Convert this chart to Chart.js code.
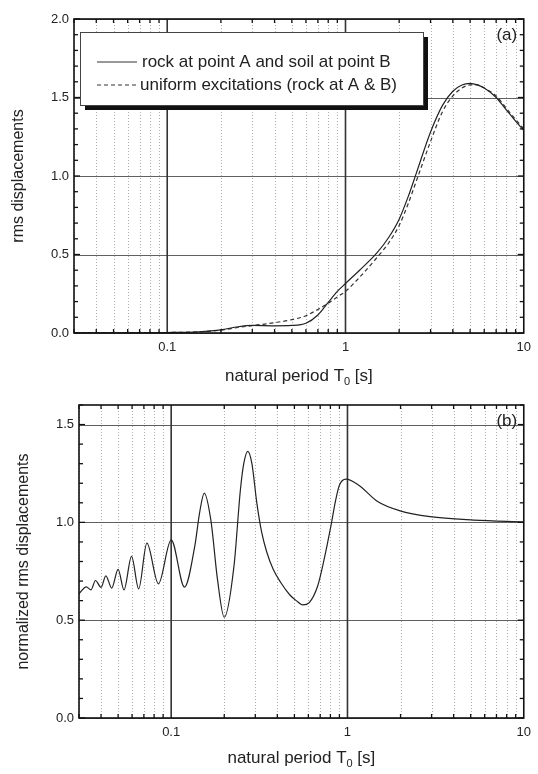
<!DOCTYPE html>
<html>
<head>
<meta charset="utf-8">
<script src="https://cdn.jsdelivr.net/npm/chart.js@4.4.1/dist/chart.umd.min.js"></script>
<style>
  html, body { margin: 0; padding: 0; background: #fff; }
  #wrap { position: relative; width: 538px; height: 774px; }
  canvas { position: absolute; left: 0; }
</style>
</head>
<body>
<div id="wrap">
  <canvas id="chartA" style="top:0;width:538px;height:390px"></canvas>
  <canvas id="chartB" style="top:390px;width:538px;height:384px"></canvas>
</div>
<script>
// panel (a): rms displacements vs natural period
const periodA = [0.03, 0.05, 0.1, 0.15, 0.2, 0.25, 0.3, 0.4, 0.5, 0.6, 0.7, 0.8, 0.9, 1.0,
  1.2, 1.5, 1.75, 2.0, 2.25, 2.5, 3.0, 3.5, 4.0, 4.5, 5.0, 5.5, 6.0, 7.0, 8.0, 9.0, 10];
const rockSoil = [0.0, 0.001, 0.003, 0.008, 0.02, 0.04, 0.048, 0.046, 0.048, 0.062, 0.115, 0.195, 0.265, 0.315,
  0.40, 0.51, 0.61, 0.725, 0.87, 1.02, 1.28, 1.45, 1.54, 1.58, 1.59, 1.58, 1.56, 1.50, 1.42, 1.35, 1.29];
const uniformRock = [0.0, 0.001, 0.003, 0.008, 0.018, 0.035, 0.047, 0.066, 0.085, 0.11, 0.15, 0.19, 0.23, 0.265,
  0.355, 0.48, 0.575, 0.685, 0.825, 0.97, 1.22, 1.41, 1.51, 1.56, 1.58, 1.58, 1.56, 1.51, 1.43, 1.36, 1.30];

// panel (b): normalized rms displacements
const periodB = [0.030, 0.033, 0.0351, 0.0372, 0.040, 0.0426, 0.046, 0.050, 0.054, 0.0596, 0.0654,
  0.0728, 0.0846, 0.1, 0.119, 0.136, 0.145, 0.154, 0.168, 0.183, 0.2, 0.227, 0.247, 0.258, 0.272,
  0.287, 0.306, 0.326, 0.348, 0.379, 0.42, 0.47, 0.512, 0.558, 0.607, 0.676, 0.736, 0.804, 0.857,
  0.9, 0.98, 1.158, 1.49, 1.97, 2.94, 5.2, 10];
const normRms = [0.635, 0.67, 0.655, 0.703, 0.668, 0.727, 0.664, 0.76, 0.655, 0.826, 0.66,
  0.894, 0.686, 0.911, 0.669, 0.877, 1.05, 1.15, 1.01, 0.71, 0.515, 0.775, 1.167, 1.30, 1.363,
  1.30, 1.10, 0.95, 0.85, 0.76, 0.69, 0.63, 0.60, 0.578, 0.59, 0.672, 0.808, 0.978, 1.114,
  1.19, 1.221, 1.19, 1.105, 1.06, 1.029, 1.012, 1.003];

const xTicks = [0.1, 1, 10];
const yTicksA = [0, 0.5, 1.0, 1.5, 2.0];
const yTicksB = [0, 0.5, 1.0, 1.5];
const seriesNames = ['rock at point A and soil at point B', 'uniform excitations (rock at A & B)'];

const FONT = '"Liberation Sans", Arial, sans-serif';
const INK = '#222';

// positions of the minor log grid lines (2..9 in each decade)
const minorPeriods = [];
[0.01, 0.1, 1].forEach(d => {
  for (let m = 2; m <= 9; m++) {
    const v = +(m * d).toPrecision(3);
    if (v >= 0.03 && v <= 10) minorPeriods.push(v);
  }
});

function pts(xs, ys) {
  return xs.map((x, i) => ({ x, y: ys[i] }));
}

function hline(ctx, x1, y1, x2, y2) {
  ctx.beginPath();
  ctx.moveTo(x1, y1);
  ctx.lineTo(x2, y2);
  ctx.stroke();
}

function decorations(cfg) {
  return {
    id: 'decorations',
    beforeDatasetsDraw(chart) {
      const { ctx, chartArea: a, scales: { x, y } } = chart;
      ctx.save();
      // dotted minor verticals
      ctx.strokeStyle = '#b0b0b0';
      ctx.lineWidth = 1;
      ctx.setLineDash([1, 2]);
      minorPeriods.forEach(v => {
        const px = Math.round(x.getPixelForValue(v)) + 0.5;
        hline(ctx, px, a.top, px, a.bottom);
      });
      ctx.setLineDash([]);
      // horizontal major lines
      ctx.strokeStyle = '#606060';
      ctx.lineWidth = 1.2;
      cfg.yTicks.forEach(v => {
        const py = Math.round(y.getPixelForValue(v)) + 0.5;
        hline(ctx, a.left, py, a.right, py);
      });
      // vertical decade lines
      ctx.strokeStyle = '#333';
      ctx.lineWidth = 1.6;
      [0.1, 1].forEach(v => {
        const px = x.getPixelForValue(v);
        hline(ctx, px, a.top, px, a.bottom);
      });
      ctx.restore();
    },
    afterDatasetsDraw(chart) {
      const { ctx, chartArea: a, scales: { x, y } } = chart;
      ctx.save();
      ctx.strokeStyle = '#111';
      ctx.lineWidth = 1.3;
      // inward tick marks on all sides
      minorPeriods.forEach(v => {
        const px = x.getPixelForValue(v);
        hline(ctx, px, a.bottom, px, a.bottom - 4);
        hline(ctx, px, a.top, px, a.top + 4);
      });
      for (let i = 0; i <= Math.round(cfg.yMax * 10); i++) {
        const v = i / 10;
        const len = i % 5 === 0 ? 6 : 4;
        const py = y.getPixelForValue(v);
        hline(ctx, a.left, py, a.left + len, py);
        hline(ctx, a.right, py, a.right - len, py);
      }
      // frame
      ctx.lineWidth = 1.6;
      ctx.strokeRect(a.left, a.top, a.right - a.left, a.bottom - a.top);
      ctx.restore();
    },
    afterDraw(chart) {
      const { ctx, chartArea: a } = chart;
      ctx.save();
      ctx.fillStyle = INK;
      // x title with subscript
      const big = '17px ' + FONT, small = '11px ' + FONT;
      ctx.font = big;
      const p1 = 'natural period T', p3 = ' [s]';
      const w1 = ctx.measureText(p1).width, w3 = ctx.measureText(p3).width;
      ctx.font = small;
      const w2 = ctx.measureText('0').width;
      let tx = (a.left + a.right) / 2 - (w1 + w2 + w3) / 2;
      const ty = cfg.xTitleY;
      ctx.textBaseline = 'alphabetic';
      ctx.textAlign = 'left';
      ctx.font = big;
      ctx.fillText(p1, tx, ty);
      ctx.font = small;
      ctx.fillText('0', tx + w1, ty + 4);
      ctx.font = big;
      ctx.fillText(p3, tx + w1 + w2, ty);
      // y title
      ctx.save();
      ctx.font = '16px ' + FONT;
      ctx.translate(cfg.yTitleX, (a.top + a.bottom) / 2);
      ctx.rotate(-Math.PI / 2);
      ctx.textAlign = 'center';
      ctx.textBaseline = 'middle';
      ctx.fillText(cfg.yTitle, 0, 0);
      ctx.restore();
      // panel label
      ctx.font = '17px ' + FONT;
      ctx.textAlign = 'center';
      ctx.textBaseline = 'middle';
      ctx.fillText(cfg.panel, a.right - 17, a.top + 16);
      // legend
      if (cfg.legend) {
        const L = cfg.legend;
        ctx.fillStyle = '#111';
        ctx.fillRect(L.x + 5, L.y + 5, L.w, L.h);
        ctx.fillStyle = '#fff';
        ctx.fillRect(L.x, L.y, L.w, L.h);
        ctx.strokeStyle = '#444';
        ctx.lineWidth = 1;
        ctx.strokeRect(L.x + 0.5, L.y + 0.5, L.w, L.h);
        ctx.font = '17px ' + FONT;
        ctx.textAlign = 'left';
        ctx.textBaseline = 'middle';
        chart.data.datasets.forEach((ds, i) => {
          const ly = L.y + 30 + i * 23;
          ctx.strokeStyle = '#333';
          ctx.lineWidth = 1.1;
          ctx.setLineDash(ds.borderDash || []);
          hline(ctx, L.x + 17, ly, L.x + 57, ly);
          ctx.setLineDash([]);
          ctx.fillStyle = INK;
          ctx.fillText(ds.label, L.x + 60 + (i === 0 ? 2 : 0), ly);
        });
      }
      ctx.restore();
    }
  };
}

function makeChart(id, datasets, cfg) {
  const canvas = document.getElementById(id);
  canvas.width = 538;
  canvas.height = cfg.height;
  return new Chart(canvas, {
    type: 'line',
    data: { datasets },
    options: {
      responsive: false,
      animation: false,
      layout: { autoPadding: false, padding: cfg.padding },
      plugins: { legend: { display: false }, tooltip: { enabled: false } },
      elements: { point: { radius: 0 }, line: { cubicInterpolationMode: 'monotone' } },
      scales: {
        x: {
          type: 'logarithmic',
          min: 0.03,
          max: 10,
          grid: { display: false, drawTicks: false },
          border: { display: false },
          afterFit: s => { s.height = cfg.xHeight; },
          afterBuildTicks: s => { s.ticks = xTicks.map(v => ({ value: v })); },
          ticks: {
            autoSkip: false,
            maxRotation: 0,
            padding: 7,
            color: INK,
            font: { family: FONT, size: 13 },
            callback: v => String(v)
          }
        },
        y: {
          type: 'linear',
          min: 0,
          max: cfg.yMax,
          grid: { display: false, drawTicks: false },
          border: { display: false },
          afterFit: s => { s.width = cfg.yWidth; },
          afterBuildTicks: s => { s.ticks = cfg.yTicks.map(v => ({ value: v })); },
          ticks: {
            padding: 5,
            color: INK,
            font: { family: FONT, size: 13 },
            callback: v => v.toFixed(1)
          }
        }
      }
    },
    plugins: [decorations(cfg)]
  });
}

makeChart('chartA', [
  { label: seriesNames[0], data: pts(periodA, rockSoil), borderColor: '#222', borderWidth: 1.2, fill: false },
  { label: seriesNames[1], data: pts(periodA, uniformRock), borderColor: '#333', borderWidth: 1.2, borderDash: [4, 3], fill: false }
], {
  height: 390,
  padding: { left: 0, right: 10, top: 19, bottom: 0 },
  xHeight: 57,
  yWidth: 74,
  yMax: 2.0,
  yTicks: yTicksA,
  xTitleY: 381,
  yTitleX: 19,
  yTitle: 'rms displacements',
  panel: '(a)',
  legend: { x: 80, y: 32, w: 343, h: 73 }
});

makeChart('chartB', [
  { label: 'normalized', data: pts(periodB, normRms), borderColor: '#222', borderWidth: 1.2, fill: false }
], {
  height: 384,
  padding: { left: 0, right: 7, top: 15, bottom: 0 },
  xHeight: 56,
  yWidth: 79,
  yMax: 1.6,
  yTicks: yTicksB,
  xTitleY: 373,
  yTitleX: 24,
  yTitle: 'normalized rms displacements',
  panel: '(b)'
});
</script>
</body>
</html>
